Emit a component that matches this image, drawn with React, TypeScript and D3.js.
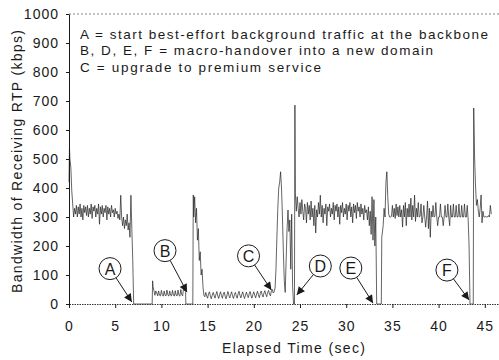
import React, { useEffect, useRef } from 'react';
import * as d3 from 'd3';

// time (sec), bandwidth (kbps)
const burstA: [number, number][] = [
  [0, 420], [0.05, 540], [0.1, 500], [0.2, 470], [0.3, 390], [0.4, 345], [0.5, 300], [0.6, 330], [0.7, 310], [0.8, 340],
  [0.9, 300], [1.0, 335], [1.1, 310], [1.2, 345], [1.3, 300], [1.4, 330], [1.5, 290], [1.6, 340], [1.7, 315], [1.8, 335],
  [1.9, 305], [2.0, 340], [2.1, 300], [2.2, 330], [2.3, 310], [2.4, 345], [2.5, 295], [2.6, 335], [2.7, 320], [2.8, 340],
  [2.9, 300], [3.0, 330], [3.1, 310], [3.2, 345], [3.3, 275], [3.4, 335], [3.5, 310], [3.6, 340], [3.7, 300], [3.8, 330],
  [3.9, 315], [4.0, 340], [4.1, 290], [4.2, 335], [4.3, 310], [4.4, 330], [4.5, 300], [4.6, 340], [4.7, 315], [4.8, 325],
  [4.9, 300], [5.0, 330], [5.1, 310], [5.2, 320], [5.3, 295], [5.4, 310], [5.5, 290], [5.6, 375], [5.7, 300], [5.8, 270],
  [5.9, 300], [6.0, 260], [6.1, 290], [6.2, 270], [6.3, 310], [6.4, 255], [6.5, 280], [6.6, 230], [6.7, 375], [6.8, 260],
  [6.9, 150], [7.0, 0],
];

const burstB: [number, number][] = [
  [9.0, 0], [9.05, 80], [9.1, 60], [9.2, 45], [9.3, 30], [9.4, 45], [9.5, 38], [9.6, 28], [9.7, 45], [9.8, 30], [9.9, 28],
  [10.0, 47], [10.1, 32], [10.2, 27], [10.3, 45], [10.4, 30], [10.5, 28], [10.6, 48], [10.7, 32], [10.8, 27], [10.9, 45],
  [11.0, 30], [11.1, 28], [11.2, 47], [11.3, 31], [11.4, 27], [11.5, 46], [11.6, 30], [11.7, 28], [11.8, 48], [11.9, 30],
  [12.0, 27], [12.1, 50], [12.2, 32], [12.3, 28], [12.4, 55], [12.5, 45], [12.6, 62], [12.65, 0],
];

const burstC: [number, number][] = [
  [13.4, 0], [13.45, 376], [13.5, 300], [13.6, 370], [13.7, 280], [13.8, 330], [13.9, 220], [14.0, 260], [14.1, 150],
  [14.2, 180], [14.3, 100], [14.4, 120], [14.5, 60], [14.6, 30], [14.7, 25], [14.8, 40], [14.9, 28], [15.0, 20],
  [15.1, 35], [15.2, 42], [15.3, 28], [15.4, 18], [15.5, 30], [15.6, 40], [15.7, 30], [15.8, 20], [15.9, 33], [16.0, 43],
  [16.1, 28], [16.2, 19], [16.3, 32], [16.4, 42], [16.5, 29], [16.6, 20], [16.7, 34], [16.8, 41], [16.9, 27], [17.0, 18],
  [17.1, 31], [17.2, 43], [17.3, 30], [17.4, 21], [17.5, 33], [17.6, 42], [17.7, 28], [17.8, 19], [17.9, 32], [18.0, 40],
  [18.1, 29], [18.2, 20], [18.3, 35], [18.4, 44], [18.5, 30], [18.6, 21], [18.7, 33], [18.8, 42], [18.9, 28], [19.0, 19],
  [19.1, 31], [19.2, 41], [19.3, 30], [19.4, 22], [19.5, 35], [19.6, 43], [19.7, 29], [19.8, 20], [19.9, 33], [20.0, 42],
  [20.1, 30], [20.2, 21], [20.3, 34], [20.4, 44], [20.5, 31], [20.6, 22], [20.7, 36], [20.8, 45], [20.9, 32], [21.0, 24],
  [21.1, 38], [21.2, 46], [21.3, 33], [21.4, 25], [21.5, 40], [21.6, 47], [21.7, 34], [21.8, 28], [21.9, 45], [22.0, 50],
  [22.1, 38], [22.2, 42], [22.3, 55], [22.4, 120], [22.5, 230], [22.6, 330], [22.7, 400], [22.8, 420], [22.9, 456],
  [23.0, 400], [23.1, 300], [23.2, 180], [23.3, 80], [23.4, 40], [23.5, 150], [23.6, 260], [23.7, 324], [23.8, 250],
  [23.9, 290], [24.0, 120], [24.1, 310], [24.2, 60], [24.3, 0], [24.4, 0],
];

const burstD: [number, number][] = [
  [24.45, 686], [24.5, 380], [24.6, 320], [24.7, 370], [24.8, 330], [24.9, 300], [25.0, 350], [25.1, 310], [25.2, 360],
  [25.3, 320], [25.4, 290], [25.5, 345], [25.6, 330], [25.7, 280], [25.8, 350], [25.9, 310], [26.0, 340], [26.1, 290],
  [26.2, 355], [26.3, 300], [26.4, 330], [26.5, 270], [26.6, 340], [26.7, 245], [26.8, 325], [26.9, 300], [27.0, 350],
  [27.1, 310], [27.2, 375], [27.3, 300], [27.4, 340], [27.5, 280], [27.6, 330], [27.7, 310], [27.8, 345], [27.9, 270],
  [28.0, 335], [28.1, 320], [28.2, 345], [28.3, 300], [28.4, 330], [28.5, 310], [28.6, 350], [28.7, 290], [28.8, 340],
  [28.9, 320], [29.0, 345], [29.1, 300], [29.2, 335], [29.3, 275], [29.4, 340], [29.5, 315], [29.6, 350], [29.7, 300],
  [29.8, 330], [29.9, 310], [30.0, 345], [30.1, 290], [30.2, 340], [30.3, 320], [30.4, 350], [30.5, 300], [30.6, 335],
  [30.7, 280], [30.8, 345], [30.9, 315], [31.0, 340], [31.1, 295], [31.2, 350], [31.3, 320], [31.4, 335], [31.5, 300],
  [31.6, 345], [31.7, 310], [31.8, 330], [31.9, 290], [32.0, 340], [32.1, 315], [32.2, 325], [32.3, 290], [32.4, 335],
  [32.5, 270], [32.6, 320], [32.7, 240], [32.8, 370], [32.9, 220], [33.0, 360], [33.1, 200], [33.2, 300], [33.3, 0],
];

const burstE: [number, number][] = [
  [33.8, 0], [33.85, 230], [34.0, 270], [34.1, 330], [34.2, 300], [34.3, 420], [34.4, 456], [34.5, 370], [34.6, 310],
  [34.7, 300], [34.8, 300], [34.9, 302], [35.0, 340], [35.1, 300], [35.2, 330], [35.3, 295], [35.4, 345], [35.5, 305],
  [35.6, 335], [35.7, 300], [35.8, 340], [35.9, 300], [36.0, 325], [36.1, 265], [36.2, 340], [36.3, 300], [36.4, 350],
  [36.5, 270], [36.6, 330], [36.7, 300], [36.8, 345], [36.9, 300], [37.0, 365], [37.1, 290], [37.2, 340], [37.3, 300],
  [37.4, 375], [37.5, 285], [37.6, 330], [37.7, 300], [37.8, 350], [37.9, 300], [38.0, 302], [38.1, 345], [38.2, 280],
  [38.3, 300], [38.4, 340], [38.5, 300], [38.6, 265], [38.7, 300], [38.8, 355], [38.9, 260], [39.0, 330], [39.1, 230],
  [39.2, 320], [39.3, 300], [39.4, 340], [39.5, 300], [39.6, 302], [39.7, 350], [39.8, 300], [39.9, 270], [40.0, 300],
  [40.1, 300], [40.2, 345], [40.3, 300], [40.4, 300], [40.5, 270], [40.6, 300], [40.7, 340], [40.8, 300], [40.9, 300],
  [41.0, 345], [41.1, 300], [41.2, 270], [41.3, 340], [41.4, 300], [41.5, 300], [41.6, 345], [41.7, 300], [41.8, 300],
  [41.9, 340], [42.0, 300], [42.1, 300], [42.2, 345], [42.3, 300], [42.4, 300], [42.5, 340], [42.6, 300], [42.7, 300],
  [42.8, 345], [42.9, 300], [43.0, 300], [43.1, 340], [43.2, 290], [43.3, 200], [43.4, 0],
];

const burstF: [number, number][] = [
  [43.75, 0], [43.8, 676], [43.9, 500], [44.0, 404], [44.1, 340], [44.2, 360], [44.3, 320], [44.4, 300], [44.5, 330],
  [44.6, 376], [44.7, 280], [44.8, 320], [44.9, 300], [45.0, 300], [45.1, 302], [45.2, 300], [45.3, 300], [45.4, 305],
  [45.5, 300], [45.6, 340], [45.7, 310],
];

const xTicks = [0, 5, 10, 15, 20, 25, 30, 35, 40, 45];
const yTicks = [0, 100, 200, 300, 400, 500, 600, 700, 800, 900, 1000];

const notes = [
  'A = start best-effort background traffic at the backbone',
  'B, D, E, F = macro-handover into a new domain',
  'C = upgrade to premium service',
];
const noteWidths = [408, 353, 241];

// circled event markers: label, circle (t, kbps), arrow tip (t, kbps)
const markers = [
  { label: 'A', t: 4.44, v: 122, tipT: 6.8, tipV: 7 },
  { label: 'B', t: 10.39, v: 184, tipT: 12.77, tipV: 41 },
  { label: 'C', t: 19.43, v: 166, tipT: 21.9, tipV: 48 },
  { label: 'D', t: 27.2, v: 131, tipT: 24.65, tipV: 31 },
  { label: 'E', t: 30.5, v: 124, tipT: 32.9, tipV: 3 },
  { label: 'F', t: 40.9, v: 117, tipT: 43.3, tipV: 14 },
];

const FONT = '"Liberation Sans", Arial, sans-serif';
const INK = '#1a1a1a';

export default function App() {
  const xAxisRef = useRef<SVGGElement>(null);
  const yAxisRef = useRef<SVGGElement>(null);

  const width = 499;
  const height = 360;
  const x = d3.scaleLinear().domain([0, 50]).range([69, 531]);
  const y = d3.scaleLinear().domain([0, 1000]).range([304, 14]);

  const trace = [...burstA, ...burstB, ...burstC, ...burstD, ...burstE, ...burstF];
  const line = d3.line<[number, number]>().x(d => x(d[0])).y(d => y(d[1]));

  useEffect(() => {
    const gx = d3.select(xAxisRef.current!);
    gx.call(d3.axisBottom(x).tickValues(xTicks).tickSize(4).tickSizeOuter(0).tickPadding(13));
    gx.select('.domain').attr('stroke', '#333').attr('stroke-dasharray', '1.5,1');
    gx.selectAll('.tick line').attr('stroke', INK);
    gx.selectAll('.tick text')
      .attr('fill', INK)
      .style('font-family', FONT)
      .style('font-size', '14px')
      .style('letter-spacing', '1px');

    const gy = d3.select(yAxisRef.current!);
    gy.call(d3.axisLeft(y).tickValues(yTicks).tickFormat(d3.format('d')).tickSize(3).tickSizeOuter(0).tickPadding(7));
    gy.select('.domain').attr('stroke', INK);
    gy.selectAll('.tick line').attr('stroke', INK);
    gy.selectAll('.tick text')
      .attr('fill', INK)
      .style('font-family', FONT)
      .style('font-size', '14px')
      .style('letter-spacing', '1px');
  }, []);

  const r = 11;

  return (
    <svg width={width} height={height} style={{ position: 'absolute', left: 0, top: 0, background: '#fff' }}>
      <defs>
        <marker id="ah" viewBox="0 0 10 10" refX="10" refY="5" markerWidth="11" markerHeight="8"
          markerUnits="userSpaceOnUse" orient="auto">
          <path d="M0,0 L10,5 L0,10 z" fill={INK} />
        </marker>
      </defs>

      <line x1={x(0)} x2={width} y1={y(1000)} y2={y(1000)} stroke="#666" strokeDasharray="2,2" strokeWidth={0.8} />

      <path d={line(trace) ?? ''} fill="none" stroke="#222" strokeWidth={0.7} />

      <g ref={xAxisRef} transform={`translate(0,${y(0)})`} />
      <g ref={yAxisRef} transform={`translate(${x(0)},0)`} />

      {markers.map(m => {
        const cx = x(m.t);
        const cy = y(m.v);
        const tx = x(m.tipT);
        const ty = y(m.tipV);
        const a = Math.atan2(ty - cy, tx - cx);
        return (
          <g key={m.label}>
            <circle cx={cx} cy={cy} r={r} fill="#fff" stroke={INK} strokeWidth={1} />
            <text x={cx} y={cy + 6} textAnchor="middle" fontFamily={FONT} fontSize={16} fill={INK}>{m.label}</text>
            <line x1={cx + r * Math.cos(a)} y1={cy + r * Math.sin(a)} x2={tx} y2={ty}
              stroke={INK} strokeWidth={1} markerEnd="url(#ah)" />
          </g>
        );
      })}

      {notes.map((n, i) => (
        <text key={n} x={80} y={38.5 + i * 16.5} fontFamily={FONT} fontSize={13.5} fill={INK}
          textLength={noteWidths[i]} lengthAdjust="spacing">{n}</text>
      ))}

      <text x={222} y={353} fontFamily={FONT} fontSize={14} fill={INK} textLength={143} lengthAdjust="spacing">
        Elapsed Time (sec)
      </text>
      <text transform="translate(22,293) rotate(-90)" fontFamily={FONT} fontSize={14} fill={INK}
        textLength={263} lengthAdjust="spacing">
        Bandwidth of Receiving RTP (kbps)
      </text>
    </svg>
  );
}
